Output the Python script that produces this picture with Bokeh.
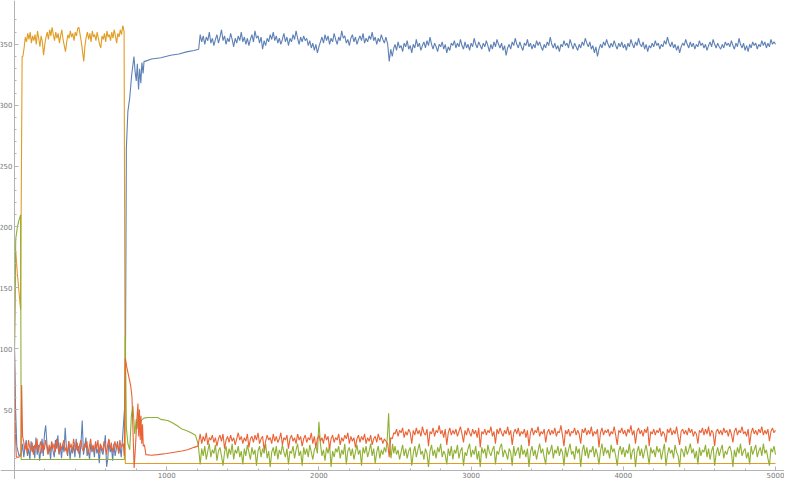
import numpy as np
from bokeh.plotting import figure
from bokeh.models import Range1d, FixedTicker
from bokeh.embed import file_html
from bokeh.resources import INLINE

# ---------------- data ----------------
x_ticks = [1000, 2000, 3000, 4000, 5000]
x_minor = [200, 400, 600, 800, 1200, 1400, 1600, 1800, 2200, 2400, 2600, 2800,
           3200, 3400, 3600, 3800, 4200, 4400, 4600, 4800]
y_ticks = [50, 100, 150, 200, 250, 300, 350]
y_minor = [10, 20, 30, 40, 60, 70, 80, 90, 110, 120, 130, 140, 160, 170, 180, 190,
           210, 220, 230, 240, 260, 270, 280, 290, 310, 320, 330, 340, 360, 370]

# ---- blue series ----
blue_start_x = [0, 6, 15, 30]
blue_start = [100, 55, 20, 12]
blue_early = [14, 22, 11, 19, 25, 12, 18, 9, 24, 15,
              20, 10, 27, 13, 21, 8, 17, 26, 12, 30,
              37, 22, 14, 19, 9, 23, 16, 11, 25, 18,
              29, 13, 20, 10, 22, 15, 35, 19, 12, 24,
              9, 18, 14, 21, 11, 26, 16, 20, 10, 23,
              41, 13, 19, 27, 12, 17, 9, 22, 15, 20,
              11, 24, 14, 18, 6, 21, 16, 13, 20, 29,
              3, 10, 25, 15, 19, 8, 22, 12, 18, 24,
              14, 20, 11, 25]  # from 45, every 8
blue_trans_x = [728, 735, 745, 757, 770, 785, 792, 800, 807, 815, 822, 830, 837, 845, 851,
                857, 900, 962, 1026, 1080, 1137, 1180, 1210]
blue_trans = [60, 265, 295, 306, 325, 340, 328, 320, 334, 313, 330, 318, 335, 326, 336,
              336, 338, 339, 341, 342, 344, 345, 346]
blue_mid = [358, 352, 357, 350, 356, 353, 360, 351, 355, 349,
            354, 358, 351, 356, 362, 353, 357, 350, 355, 352,
            359, 354, 348, 355, 351, 357, 353, 360, 352, 356,
            350, 355, 349, 354, 358, 352, 361, 355, 357, 351,
            356, 346, 353, 349, 355, 352, 358, 354, 360, 353,
            357, 351, 355, 350, 354, 359, 352, 356, 349, 355,
            352, 358, 354, 361, 355, 350, 356, 352, 357, 353,
            355, 349, 353, 347, 351, 345, 350, 343, 348, 352,
            356, 351, 358, 353, 357, 350, 355, 352, 359, 354,
            350, 356, 353, 361, 355, 357, 351, 354, 349, 355,
            358, 352, 356, 350, 354, 357, 353, 359, 351, 355,
            352, 357, 354, 360, 353, 356, 350, 355, 352, 358,
            354, 351, 356]  # from 1220, every 10
blue_dip_x = [2452, 2462, 2472, 2482, 2492]
blue_dip = [350, 336, 346, 340, 347]
blue_late = [350, 345, 352, 347, 349, 344, 351, 348, 353, 346,
             349, 343, 350, 347, 354, 348, 351, 345, 349, 352,
             347, 353, 349, 356, 350, 346, 351, 348, 344, 350,
             348, 352, 346, 350, 343, 348, 345, 351, 349, 353,
             347, 351, 348, 354, 349, 346, 352, 347, 350, 345,
             351, 348, 355, 350, 347, 352, 349, 346, 351, 348,
             353, 349, 344, 350, 346, 352, 348, 354, 350, 347,
             351, 345, 349, 341, 347, 350, 346, 352, 349, 355,
             350, 347, 352, 348, 345, 351, 349, 354, 348, 351,
             346, 350, 347, 353, 349, 352, 348, 345, 350, 347,
             352, 349, 356, 350, 347, 351, 346, 349, 344, 350,
             348, 353, 349, 351, 347, 354, 350, 346, 351, 348,
             345, 350, 347, 352, 349, 355, 351, 348, 352, 346,
             349, 343, 348, 340, 346, 350, 347, 352, 349, 354,
             350, 347, 351, 348, 353, 349, 346, 351, 348, 352,
             347, 350, 345, 351, 348, 354, 350, 347, 352, 349,
             355, 350, 348, 352, 346, 350, 344, 349, 347, 351,
             348, 353, 349, 351, 346, 350, 348, 353, 350, 356,
             351, 348, 352, 347, 350, 345, 349, 343, 348, 351,
             349, 354, 350, 347, 352, 348, 351, 346, 350, 348,
             353, 349, 351, 347, 350, 345, 349, 352, 348, 354,
             350, 347, 351, 348, 346, 350, 347, 352, 349, 351,
             348, 353, 349, 346, 351, 348, 355, 350, 347, 351,
             345, 349, 344, 350, 347, 352, 349, 351, 346, 350,
             348, 353, 349, 352, 347, 351, 348, 354, 350, 352,
             350]  # from 2500, every 10

# ---- gold series ----
gold_start_x = [0, 8, 20, 40, 50]
gold_start = [100, 180, 160, 132, 340]
gold_early = [340, 347, 356, 352, 359, 354, 360, 351, 357, 353,
              358, 350, 361, 355, 348, 357, 352, 341, 350, 356,
              360, 354, 362, 357, 364, 358, 353, 360, 355, 359,
              351, 357, 362, 354, 349, 344, 352, 358, 355, 361,
              356, 359, 353, 360, 357, 363, 364, 358, 352, 344,
              336, 349, 356, 360, 354, 359, 352, 361, 356, 358,
              353, 360, 355, 350, 347, 357, 354, 359, 352, 361,
              356, 358, 353, 360, 355, 362, 357, 351, 359, 356,
              362, 358, 365]  # from 55, every 8
gold_end_x = [713, 720, 728, 5000]
gold_end = [365, 360, 5.8, 5.8]

# ---- green series ----
green_start_x = [0, 8, 18, 28, 40, 44]
green_start = [100, 190, 199, 205, 210, 9]
green_trans_x = [715, 722, 728, 735, 745, 757, 768, 778, 790, 800, 806, 811, 817, 822, 828,
                 832, 850, 876, 941, 960, 1007, 1040, 1072, 1100, 1137, 1160, 1189, 1207]
green_trans = [9, 9, 110, 35, 22, 17, 45, 53, 30, 42, 34, 44, 36, 43, 39, 41, 43, 43.5, 43.5,
               42, 41, 39, 36.5, 34, 32.5, 31, 29, 21.5]
green_mid = [5, 18, 12, 20, 9, 16, 22, 11, 17, 14,
             21, 8, 16, 19, 12, 4, 15, 20, 10, 18,
             13, 22, 9, 17, 14, 20, 11, 16, 5, 18,
             12, 21, 15, 9, 19, 13, 17, 4, 16, 20,
             11, 18, 14, 22, 10, 16, 3, 15, 19, 12,
             20, 9, 17, 13, 21, 15, 11, 18, 5, 16,
             14, 20, 10, 17, 22, 12, 16, 4, 19, 13,
             18, 11, 21, 15, 9, 17, 20, 14, 40, 22,
             12, 17, 8, 19, 14, 21, 3, 16, 11, 18,
             15, 20, 10, 17, 13, 22, 5, 16, 19, 12,
             18, 9, 15, 21, 13, 17, 4, 19, 14, 20,
             11, 16, 22, 12, 18, 6, 15, 20, 10, 17,
             13, 19, 15]  # from 1220, every 10
green_dip_x = [2450, 2458, 2466, 2474, 2484, 2492]
green_dip = [28, 47, 20, 10, 22, 14]
green_late = [20, 13, 17, 9, 15, 21, 12, 18, 10, 16,
              19, 4, 14, 20, 11, 17, 22, 13, 16, 9,
              18, 14, 3, 16, 21, 12, 17, 10, 19, 15,
              22, 11, 16, 13, 5, 18, 12, 20, 9, 17,
              14, 21, 10, 16, 19, 4, 15, 12, 18, 22,
              11, 17, 13, 20, 9, 16, 3, 19, 14, 18,
              10, 21, 15, 12, 17, 20, 5, 16, 13, 19,
              22, 11, 17, 14, 9, 18, 15, 4, 20, 12,
              16, 19, 10, 21, 13, 17, 11, 18, 3, 15,
              20, 12, 17, 9, 16, 22, 14, 18, 11, 5,
              19, 13, 16, 21, 10, 17, 14, 20, 12, 18,
              15, 4, 19, 11, 17, 22, 13, 16, 9, 20,
              14, 18, 3, 16, 21, 12, 19, 10, 17, 15,
              20, 11, 18, 13, 5, 16, 22, 12, 19, 14,
              17, 10, 21, 15, 18, 12, 4, 16, 20, 13,
              19, 11, 17, 14, 22, 9, 16, 18, 3, 15,
              20, 12, 18, 10, 16, 21, 13, 5, 19, 14,
              17, 11, 20, 15, 18, 9, 16, 22, 4, 13,
              19, 14, 17, 10, 21, 15, 12, 3, 18, 16,
              11, 20, 13, 17, 22, 14, 18, 10, 16, 5,
              19, 12, 17, 15, 21, 11, 18, 9, 16, 20,
              4, 14, 19, 12, 17, 21, 10, 16, 13, 18,
              20, 15, 3, 17, 11, 19, 14, 22, 12, 16,
              18, 10, 15, 5, 20, 13, 17, 21, 11, 16,
              19, 12, 22, 14, 17, 10, 4, 18, 15, 20,
              13]  # from 2500, every 10

# ---- red series ----
red_start_x = [0, 6, 12, 30, 42, 47, 53]
red_start = [100, 30, 11, 11, 12, 70, 28]
red_early = [24, 17, 22, 14, 25, 19, 16, 23, 13, 21,
             18, 26, 15, 20, 24, 14, 22, 17, 25, 19,
             13, 21, 16, 24, 18, 22, 15, 26, 20, 14,
             23, 17, 21, 25, 16, 19, 13, 24, 18, 22,
             15, 26, 20, 17, 23, 14, 21, 25, 18, 16,
             22, 19, 24, 13, 20, 26, 17, 21, 15, 23,
             18, 25, 14, 22, 19, 16, 24, 20, 13, 21,
             26, 17, 23, 15, 20, 24, 18, 22, 14, 25,
             19, 21]  # from 60, every 8
red_trans_x = [715, 721, 728, 736, 746, 756, 764, 772, 779, 786, 795, 803, 811, 816, 821,
               826, 831, 836, 841, 846, 854, 863, 900, 941, 1000, 1050, 1100, 1137, 1180, 1205]
red_trans = [22, 12, 92, 86, 80, 74, 69, 60, 30, 2, 20, 40, 55, 28, 50, 25, 45, 22, 38, 20,
             21, 13, 12.5, 13, 14, 15, 16, 17, 19, 20]
red_mid = [30, 22, 28, 24, 31, 21, 27, 25, 29, 23,
           27, 20, 26, 29, 24, 30, 18, 25, 28, 23,
           29, 24, 27, 21, 26, 31, 25, 28, 22, 27,
           24, 30, 19, 26, 28, 23, 29, 25, 31, 22,
           26, 28, 17, 24, 29, 25, 27, 22, 30, 24,
           28, 23, 26, 31, 21, 27, 25, 29, 18, 26,
           29, 24, 27, 22, 30, 25, 28, 20, 26, 29,
           23, 27, 25, 31, 22, 28, 19, 26, 29, 24,
           27, 22, 30, 25, 28, 18, 26, 29, 23, 27,
           25, 30, 21, 27, 24, 29, 26, 31, 22, 28,
           24, 27, 19, 26, 29, 23, 28, 25, 30, 22,
           27, 24, 29, 21, 26, 28, 23, 30, 25, 27,
           22, 26, 24]  # from 1220, every 10
red_dip_x = [2452, 2462, 2472, 2482, 2492]
red_dip = [22, 11, 27, 26, 31]
red_late = [30, 34, 28, 33, 31, 35, 27, 32, 29, 34,
            31, 22, 33, 29, 35, 30, 33, 28, 36, 31,
            29, 34, 20, 32, 30, 35, 28, 33, 31, 37,
            30, 33, 27, 34, 21, 31, 35, 29, 33, 30,
            34, 28, 32, 36, 30, 23, 33, 29, 35, 31,
            28, 34, 30, 33, 27, 35, 19, 32, 30, 34,
            29, 33, 31, 36, 28, 32, 22, 34, 30, 35,
            31, 28, 33, 30, 36, 29, 33, 21, 31, 34,
            30, 35, 28, 32, 30, 34, 27, 33, 20, 31,
            35, 29, 33, 31, 36, 28, 32, 30, 34, 23,
            31, 34, 29, 33, 30, 35, 28, 32, 31, 37,
            29, 20, 33, 30, 34, 28, 32, 31, 35, 29,
            33, 30, 22, 34, 31, 35, 29, 33, 30, 36,
            28, 32, 30, 34, 19, 31, 35, 29, 33, 31,
            34, 28, 32, 30, 36, 29, 21, 33, 31, 35,
            30, 33, 28, 34, 31, 37, 29, 33, 22, 32,
            35, 30, 33, 28, 34, 31, 36, 20, 32, 30,
            34, 29, 33, 31, 35, 28, 32, 30, 23, 34,
            31, 35, 29, 33, 30, 36, 28, 21, 32, 34,
            30, 33, 29, 35, 31, 34, 28, 32, 30, 22,
            33, 31, 35, 29, 34, 30, 36, 28, 33, 31,
            20, 32, 34, 30, 33, 29, 35, 31, 33, 28,
            34, 30, 23, 32, 35, 29, 33, 31, 36, 30,
            32, 28, 34, 21, 31, 35, 30, 33, 29, 34,
            31, 36, 29, 33, 30, 34, 24, 32, 35, 31,
            33]  # from 2500, every 10


def even(start, step, vals):
    return [start + step * i for i in range(len(vals))]


def join(*parts):
    xs, ys = [], []
    for px, py in parts:
        xs += list(px)
        ys += list(py)
    return xs, ys


blue_x, blue_y = join((blue_start_x, blue_start),
                      (even(45, 8, blue_early), blue_early),
                      (blue_trans_x, blue_trans),
                      (even(1220, 10, blue_mid), blue_mid),
                      (blue_dip_x, blue_dip),
                      (even(2500, 10, blue_late), blue_late))
gold_x, gold_y = join((gold_start_x, gold_start),
                      (even(55, 8, gold_early), gold_early),
                      (gold_end_x, gold_end))
green_x, green_y = join((green_start_x, green_start),
                        (green_trans_x, green_trans),
                        (even(1220, 10, green_mid), green_mid),
                        (green_dip_x, green_dip),
                        (even(2500, 10, green_late), green_late))
red_x, red_y = join((red_start_x, red_start),
                    (even(60, 8, red_early), red_early),
                    (red_trans_x, red_trans),
                    (even(1220, 10, red_mid), red_mid),
                    (red_dip_x, red_dip),
                    (even(2500, 10, red_late), red_late))

# ---------------- figure ----------------
p = figure(width=784, height=479, output_backend="svg", toolbar_location=None,
           x_range=Range1d(-92, 5059), y_range=Range1d(-7.4, 386),
           min_border_left=0, min_border_right=0, min_border_top=0, min_border_bottom=0)
p.outline_line_color = None
p.xgrid.visible = False
p.ygrid.visible = False
p.background_fill_color = "white"
p.border_fill_color = "white"

lw = 1.1
p.line(blue_x, blue_y, line_color="#5E81B5", line_width=lw)
p.line(gold_x, gold_y, line_color="#E19C24", line_width=lw)
p.line(green_x, green_y, line_color="#8FB032", line_width=lw)
p.line(red_x, red_y, line_color="#EB6235", line_width=lw)

p.xaxis.ticker = FixedTicker(ticks=x_ticks, minor_ticks=x_minor)
p.yaxis.ticker = FixedTicker(ticks=y_ticks, minor_ticks=y_minor)
p.xaxis.fixed_location = 0
p.yaxis.fixed_location = 0
for ax in (p.xaxis[0], p.yaxis[0]):
    ax.axis_line_color = "#b3b3b3"
    ax.major_tick_line_color = "#b3b3b3"
    ax.minor_tick_line_color = "#b3b3b3"
    ax.major_tick_in = 4
    ax.major_tick_out = 0
    ax.minor_tick_in = 2
    ax.minor_tick_out = 0
    ax.major_label_text_font = "DejaVu Sans"
    ax.major_label_text_font_size = "7px"
    ax.major_label_text_color = "#777777"
    ax.major_label_standoff = 2
    ax.axis_label_standoff = 0

open("out.html", "w").write(file_html(p, INLINE))
